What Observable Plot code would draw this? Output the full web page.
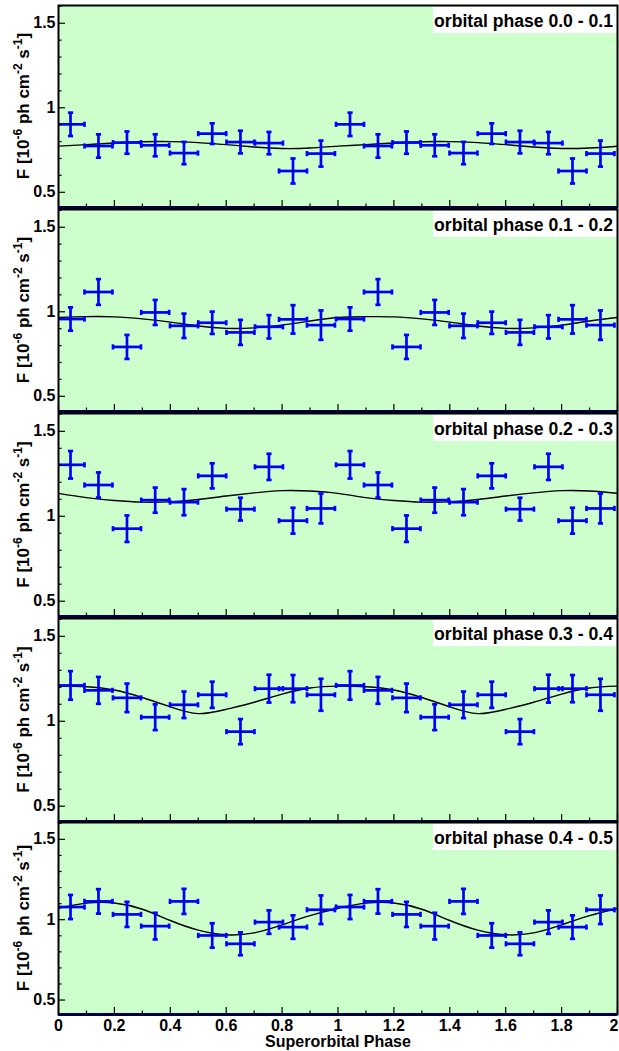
<!DOCTYPE html>
<html>
<head>
<meta charset="utf-8">
<script src="https://cdn.jsdelivr.net/npm/d3@7"></script>
<script src="https://cdn.jsdelivr.net/npm/@observablehq/plot@0.6"></script>
<style>
  html, body { margin: 0; padding: 0; background: #ffffff; }
  #chart { position: relative; width: 619px; height: 1051px; overflow: hidden; }
</style>
</head>
<body>
<div id="chart"></div>
<script>
// ---------- data ----------
const superPhase = [0.043, 0.143, 0.245, 0.346, 0.449, 0.550, 0.651, 0.753, 0.839, 0.939,
                    1.043, 1.143, 1.245, 1.346, 1.449, 1.550, 1.651, 1.753, 1.839, 1.939];
const binHalfWidth = 0.05;

const panelLabels = ["orbital phase 0.0 - 0.1", "orbital phase 0.1 - 0.2", "orbital phase 0.2 - 0.3",
                     "orbital phase 0.3 - 0.4", "orbital phase 0.4 - 0.5"];

const flux00 = [0.902, 0.774, 0.794, 0.778, 0.732, 0.847, 0.797, 0.791, 0.626, 0.729,
                0.902, 0.774, 0.794, 0.778, 0.732, 0.847, 0.797, 0.791, 0.626, 0.729];
const err00  = [0.069, 0.069, 0.066, 0.065, 0.066, 0.061, 0.067, 0.066, 0.074, 0.077,
                0.069, 0.069, 0.066, 0.065, 0.066, 0.061, 0.067, 0.066, 0.074, 0.077];

const flux01 = [0.957, 1.117, 0.792, 0.996, 0.917, 0.935, 0.878, 0.911, 0.955, 0.921,
                0.957, 1.117, 0.792, 0.996, 0.917, 0.935, 0.878, 0.911, 0.955, 0.921];
const err01  = [0.069, 0.076, 0.071, 0.074, 0.072, 0.066, 0.074, 0.069, 0.084, 0.087,
                0.069, 0.076, 0.071, 0.074, 0.072, 0.066, 0.074, 0.069, 0.084, 0.087];

const flux02 = [1.303, 1.184, 0.927, 1.095, 1.083, 1.238, 1.042, 1.291, 0.974, 1.046,
                1.303, 1.184, 0.927, 1.095, 1.083, 1.238, 1.042, 1.291, 0.974, 1.046];
const err02  = [0.081, 0.074, 0.078, 0.074, 0.077, 0.074, 0.067, 0.077, 0.076, 0.088,
                0.081, 0.074, 0.078, 0.074, 0.077, 0.074, 0.067, 0.077, 0.076, 0.088];

const flux03 = [1.211, 1.182, 1.138, 1.024, 1.097, 1.156, 0.939, 1.192, 1.192, 1.156,
                1.211, 1.182, 1.138, 1.024, 1.097, 1.156, 0.939, 1.192, 1.192, 1.156];
const err03  = [0.084, 0.079, 0.084, 0.076, 0.078, 0.077, 0.074, 0.082, 0.080, 0.094,
                0.084, 0.079, 0.084, 0.076, 0.078, 0.077, 0.074, 0.082, 0.080, 0.094];

const flux04 = [1.079, 1.114, 1.033, 0.960, 1.114, 0.902, 0.850, 0.985, 0.954, 1.062,
                1.079, 1.114, 1.033, 0.960, 1.114, 0.902, 0.850, 0.985, 0.954, 1.062];
const err04  = [0.075, 0.076, 0.078, 0.083, 0.078, 0.076, 0.071, 0.073, 0.073, 0.089,
                0.075, 0.076, 0.078, 0.083, 0.078, 0.076, 0.071, 0.073, 0.073, 0.089];

// model curves, read at every 0.1 in superorbital phase
const curvePhase = [0, 0.1, 0.2, 0.3, 0.4, 0.5, 0.6, 0.7, 0.8, 0.9, 1.0,
                    1.1, 1.2, 1.3, 1.4, 1.5, 1.6, 1.7, 1.8, 1.9, 2.0];
const model00 = [0.773, 0.782, 0.792, 0.799, 0.800, 0.794, 0.782, 0.768, 0.759, 0.762, 0.773,
                 0.782, 0.792, 0.799, 0.800, 0.794, 0.782, 0.768, 0.759, 0.762, 0.773];
const model01 = [0.966, 0.971, 0.970, 0.958, 0.939, 0.916, 0.902, 0.905, 0.921, 0.945, 0.966,
                 0.971, 0.970, 0.958, 0.939, 0.916, 0.902, 0.905, 0.921, 0.945, 0.966];
const model02 = [1.135, 1.110, 1.093, 1.083, 1.085, 1.099, 1.119, 1.138, 1.151, 1.149, 1.135,
                 1.110, 1.093, 1.083, 1.085, 1.099, 1.119, 1.138, 1.151, 1.149, 1.135];
const model03 = [1.207, 1.203, 1.184, 1.140, 1.085, 1.045, 1.070, 1.112, 1.160, 1.196, 1.207,
                 1.203, 1.184, 1.140, 1.085, 1.045, 1.070, 1.112, 1.160, 1.196, 1.207];
const model04 = [1.071, 1.103, 1.104, 1.065, 0.995, 0.935, 0.906, 0.918, 0.968, 1.025, 1.071,
                 1.103, 1.104, 1.065, 0.995, 0.935, 0.906, 0.918, 0.968, 1.025, 1.071];

const xMajorTicks = [0, 0.2, 0.4, 0.6, 0.8, 1, 1.2, 1.4, 1.6, 1.8, 2];
const xMinorTicks = [0.1, 0.3, 0.5, 0.7, 0.9, 1.1, 1.3, 1.5, 1.7, 1.9];
const xLabelTicks = [0, 0.2, 0.4, 0.6, 0.8, 1, 1.2, 1.4, 1.6, 1.8];
const xEndTick = [2];
const yMajorTicks = [0.5, 1, 1.5];
const yMinorTicks = [0.6, 0.7, 0.8, 0.9, 1.1, 1.2, 1.3, 1.4, 1.6];
const xTitle = "Superorbital Phase";

// ---------- layout ----------
const fluxSets  = [flux00, flux01, flux02, flux03, flux04];
const errSets   = [err00, err01, err02, err03, err04];
const modelSets = [model00, model01, model02, model03, model04];
const frameTops    = [5, 209, 413, 618, 822];
const frameBottoms = [207, 411, 616, 821, 1014];
const yDomain = [0.41, 1.605];
const BLUE = "#0000ff";
const FONT = "'Liberation Sans', Arial, Helvetica, sans-serif";

const hCap = {draw(ctx) { ctx.moveTo(-2.6, 0); ctx.lineTo(2.6, 0); }};
const vCap = {draw(ctx) { ctx.moveTo(0, -2.6); ctx.lineTo(0, 2.6); }};

function yLabelMark(index, scales, values, dims) {
  const cy = (dims.marginTop + dims.height - dims.marginBottom) / 2;
  const t = d3.create("svg:text")
    .attr("transform", `translate(29,${cy}) rotate(-90)`)
    .attr("text-anchor", "middle")
    .attr("font-family", FONT)
    .attr("font-weight", "bold")
    .attr("font-size", 17)
    .attr("fill", "black");
  const parts = [["F [10", 0], ["-6", 1], [" ph cm", 0], ["-2", 1], [" s", 0], ["-1", 1], ["]", 0]];
  let up = false;
  for (const [s, sup] of parts) {
    const ts = t.append("tspan").text(s);
    if (sup) { ts.attr("dy", -7).attr("font-size", 12); up = true; }
    else if (up) { ts.attr("dy", 7); up = false; }
  }
  return t.node();
}

function panelLabelMark(text) {
  return (index, scales, values, dims) => {
    const right = dims.width - dims.marginRight;
    const top = dims.marginTop;
    const g = d3.create("svg:g");
    g.append("rect").attr("x", right - 184).attr("y", top + 2).attr("width", 184).attr("height", 26).attr("fill", "white");
    g.append("text")
      .attr("x", right - 4).attr("y", top + 22)
      .attr("text-anchor", "end")
      .attr("font-family", FONT).attr("font-weight", "bold").attr("font-size", 17.6)
      .attr("fill", "black")
      .text(text);
    return g.node();
  };
}

const chart = document.getElementById("chart");

for (let i = 0; i < 5; i++) {
  const isLast = i === 4;
  const mt = 2, mb = isLast ? 37 : 2;
  const h = frameBottoms[i] - frameTops[i] + mt + mb;
  const pts = superPhase.map((x, j) => ({x, y: fluxSets[i][j], e: errSets[i][j]}));
  const curve = curvePhase.map((x, j) => ({x, y: modelSets[i][j]}));

  const marks = [
    Plot.frame({fill: "#ccffcc", stroke: null}),
    Plot.line(curve, {x: "x", y: "y", stroke: "black", strokeWidth: 1.4, curve: "natural", clip: true}),
    // vertical error bars
    Plot.ruleX(pts, {x: "x", y1: d => d.y - d.e, y2: d => d.y + d.e, stroke: BLUE, strokeWidth: 2.7, clip: true}),
    // horizontal error bars (bin width)
    Plot.ruleY(pts, {y: "y", x1: d => d.x - binHalfWidth, x2: d => d.x + binHalfWidth, stroke: BLUE, strokeWidth: 2.7, clip: true}),
    Plot.dot(pts, {x: "x", y: d => d.y - d.e, symbol: hCap, fill: "none", stroke: BLUE, strokeWidth: 2.7, clip: true}),
    Plot.dot(pts, {x: "x", y: d => d.y + d.e, symbol: hCap, fill: "none", stroke: BLUE, strokeWidth: 2.7, clip: true}),
    Plot.dot(pts, {x: d => d.x - binHalfWidth, y: "y", symbol: vCap, fill: "none", stroke: BLUE, strokeWidth: 2.7, clip: true}),
    Plot.dot(pts, {x: d => d.x + binHalfWidth, y: "y", symbol: vCap, fill: "none", stroke: BLUE, strokeWidth: 2.7, clip: true}),
    Plot.dot(pts, {x: "x", y: "y", r: 0.9, fill: "#000040", stroke: null}),
    // ticks (inward)
    Plot.axisY({ticks: yMajorTicks, tickSize: -7, fill: "none", stroke: "black", strokeWidth: 1.2, label: null}),
    Plot.axisY({ticks: yMinorTicks, tickSize: -3.5, fill: "none", stroke: "black", strokeWidth: 1.2, label: null}),
    Plot.axisY({ticks: yMajorTicks, tickSize: 0, tickPadding: 3, tickFormat: d => String(d), label: null,
                fontSize: 16, fontWeight: "bold"}),
    Plot.axisX({ticks: xMajorTicks, tickSize: -7, fill: "none", stroke: "black", strokeWidth: 1.2, label: null}),
    Plot.axisX({ticks: xMinorTicks, tickSize: -3.5, fill: "none", stroke: "black", strokeWidth: 1.2, label: null}),
    yLabelMark,
    panelLabelMark(panelLabels[i]),
    Plot.frame({stroke: "black", strokeWidth: 2}),
    Plot.ruleY([yDomain[0]], {stroke: "#000040", strokeWidth: 3})
  ];
  if (isLast) {
    marks.push(
      Plot.axisX({ticks: xLabelTicks, tickSize: 0, tickPadding: 5, tickFormat: d => String(d), label: null,
                  fontSize: 16, fontWeight: "bold"}),
      Plot.axisX({ticks: xEndTick, tickSize: 0, tickPadding: 5, tickFormat: d => String(d), label: null,
                  textAnchor: "end", dx: 1, fontSize: 16, fontWeight: "bold"}),
      Plot.text([xTitle], {frameAnchor: "bottom", dy: 32, lineAnchor: "bottom", text: d => d,
                           fontSize: 16, fontWeight: "bold", fill: "black"})
    );
  }

  const svg = Plot.plot({
    width: 619,
    height: h,
    marginLeft: 58,
    marginRight: 2,
    marginTop: mt,
    marginBottom: mb,
    x: {domain: [0, 2]},
    y: {domain: yDomain},
    style: {fontFamily: FONT, fontWeight: "bold", fontSize: "16px", color: "black", background: "transparent", overflow: "visible"},
    marks
  });
  svg.style.position = "absolute";
  svg.style.left = "0px";
  svg.style.top = (frameTops[i] - mt) + "px";
  chart.appendChild(svg);
}
</script>
</body>
</html>
